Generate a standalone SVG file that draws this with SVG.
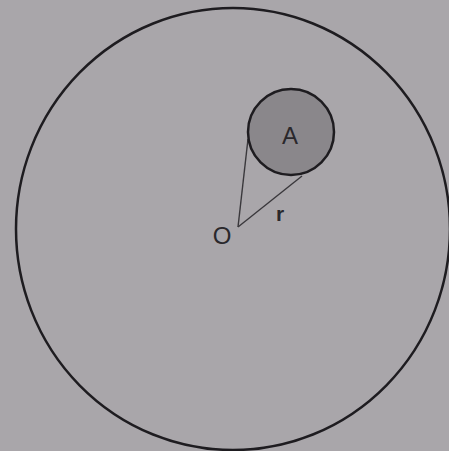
<svg xmlns="http://www.w3.org/2000/svg" width="449" height="451" viewBox="0 0 449 451">
<style>
.t{font-family:"Liberation Sans",Arial,sans-serif;fill:#2a282c;}
.ln{stroke:#3a383c;stroke-width:1.4;fill:none;}
</style>
<rect width="449" height="451" fill="#a9a6aa"/>
<g id="outer"><ellipse cx="233" cy="229" rx="217" ry="221" fill="none" stroke="#1e1c20" stroke-width="2.5"/></g>
<g id="connectors">
<line class="ln" x1="238" y1="227" x2="248" y2="139"/>
<line class="ln" x1="238" y1="227" x2="302" y2="176"/>
</g>
<g id="A"><circle cx="291" cy="132" r="43" fill="#8a878b" stroke="#1e1c20" stroke-width="2.5"/>
<text class="t" x="290" y="144" font-size="24" text-anchor="middle">A</text></g>
<g id="O"><text class="t" x="222" y="244" font-size="24" text-anchor="middle">O</text></g>
<text class="t" x="280" y="221" font-size="21" font-weight="bold" text-anchor="middle">r</text>
</svg>
